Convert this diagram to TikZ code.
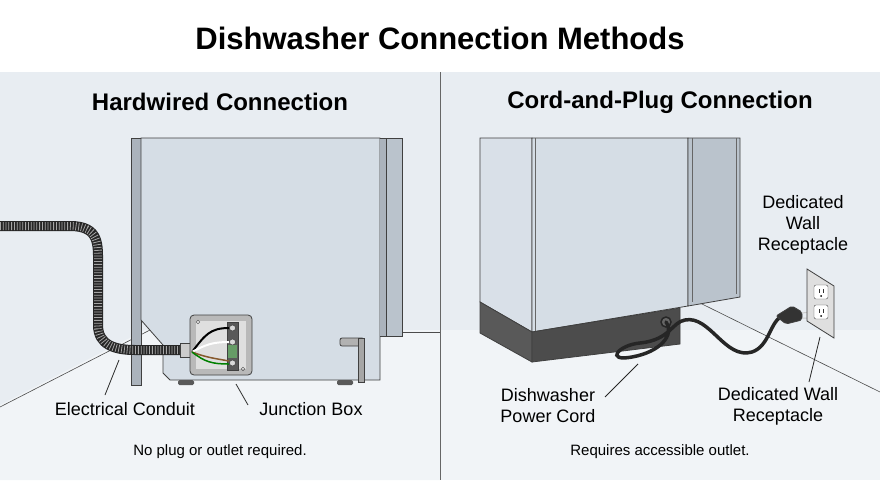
\documentclass[tikz,border=0pt]{standalone}
\usepackage{fontspec}
\setmainfont{Liberation Sans}
\definecolor{wall}{HTML}{E8EDF2}
\definecolor{floorc}{HTML}{F1F4F7}
\definecolor{body}{HTML}{D5DDE5}
\definecolor{strip}{HTML}{ABB3BC}
\definecolor{side}{HTML}{BAC3CC}
\begin{document}
\begin{tikzpicture}[x=1pt,y=-1pt,
  lbl/.style={font=\fontsize{18}{21}\selectfont,align=center,text=black},
  hdr/.style={font=\bfseries\fontsize{24}{27}\selectfont},
  foot/.style={font=\fontsize{15}{17}\selectfont},
  edge/.style={draw=black!75,line width=0.8pt},
  lead/.style={draw=black!85,line width=0.8pt}]
\useasboundingbox (0,0) rectangle (880,480);
\fill[white] (0,0) rectangle (880,72);
\fill[wall] (0,72) rectangle (880,480);
\fill[floorc] (0,405) -- (145,330) -- (440,330) -- (440,480) -- (0,480) -- cycle;
\fill[floorc] (440,330) -- (880,330) -- (880,480) -- (440,480) -- cycle;
\draw[black!60] (440,72) -- (440,480);
\node[font=\bfseries\fontsize{31}{34}\selectfont] (title) at (440,38) {Dishwasher Connection Methods};
\node[hdr] (h1) at (220,102) {Hardwired Connection};
\node[hdr] (h2) at (660,102) {Cord-and-Plug Connection};
% left floor lines
\draw[black!70,line width=0.6pt] (0,407) -- (150,330);
\draw[black!70,line width=0.6pt] (402,332) -- (440,332);
% left dishwasher
\draw[edge,fill=strip] (131,138) rectangle (141,385);
\draw[edge,fill=body] (141,138) -- (380,138) -- (380,380) -- (170,380) -- (163,373) -- (163,345) -- (141,320) -- cycle;
\draw[edge,fill=strip] (380,138) -- (386,138) -- (386,336) -- (380,336);
\draw[edge,fill=side] (386,138) rectangle (402,336);
\draw[edge,fill=gray!60,rounded corners=2pt] (340,338) rectangle (364,346);
\draw[edge,fill=gray!70] (358,338) rectangle (364,382);
\fill[black!65,rounded corners=1.5pt] (178,380) rectangle (194,385);
\fill[black!65,rounded corners=1.5pt] (337,380) rectangle (353,385);
% conduit
\draw[black!85,line width=10pt,line cap=round] (0,226) -- (70,226) .. controls (100,226) and (98,245) .. (98,265) -- (98,325) .. controls (98,345) and (115,350) .. (135,350) -- (182,350);
\draw[gray!70,line width=8pt,dash pattern=on 0.8pt off 2pt] (0,226) -- (70,226) .. controls (100,226) and (98,245) .. (98,265) -- (98,325) .. controls (98,345) and (115,350) .. (135,350) -- (182,350);
\draw[edge,fill=gray!40] (180,343) rectangle (191,357);
% junction box
\draw[edge,fill=gray!55,rounded corners=4pt] (190,315) rectangle (252,375);
\fill[gray!25] (196,321) rectangle (246,369);
\draw[edge,fill=black!65] (227,322) rectangle (238,370);
\fill[green!35!black!60] (228,345) rectangle (237,358);
\foreach \yy in {328,342,363} \draw[black!80,fill=gray!30] (232.5,\yy) circle (3);
\draw[black,line width=2pt] (192,352) .. controls (205,335) and (210,328) .. (229,328);
\draw[white,line width=2pt] (192,352) .. controls (205,345) and (212,342) .. (229,342);
\draw[brown!70!black,line width=1.5pt] (192,352) .. controls (205,357) and (212,358) .. (229,361);
\draw[green!50!black,line width=1.5pt] (192,352) .. controls (205,362) and (212,364) .. (229,364);
\draw[black!70] (198,322) circle (1.8) (243,369) circle (1.8);
% left labels
\node[lbl] (ec) at (125,409) {Electrical Conduit};
\node[lbl] (jb) at (311,409) {Junction Box};
\coordinate (c1) at (119,360);
\coordinate (c2) at (236,384);
\draw[lead] (105,395) -- (c1);
\draw[lead] (248,405) -- (c2);
\node[foot] (f1) at (220,452) {No plug or outlet required.};
% right floor line
\draw[black!70,line width=0.6pt] (700,303) -- (880,392);
% right dishwasher
\draw[edge,fill=body!90!white] (480,138) -- (532,138) -- (532,332) -- (480,302) -- cycle;
\draw[edge,fill=body] (532,138) -- (688,138) -- (688,306) -- (532,332) -- cycle;
\draw[black!60] (535,138) -- (535,331);
\draw[edge,fill=side] (688,138) -- (740,138) -- (740,297) -- (688,306) -- cycle;
\draw[black!60] (692,138) -- (692,302) (736,138) -- (736,294);
\draw[edge,fill=black!65] (480,302) -- (532,332) -- (532,362) -- (480,333) -- cycle;
\draw[edge,fill=black!70] (532,332) -- (680,308) -- (680,344) -- (532,362) -- cycle;
\draw[black!85,fill=black!60,line width=1.5pt] (666,322) circle (5);
% cord
\draw[black!85,line width=3.5pt,line cap=round] (666,322) .. controls (675,335) and (660,352) .. (632,357) .. controls (605,362) and (618,345) .. (640,343) .. controls (670,340) and (672,322) .. (685,320) .. controls (710,315) and (725,360) .. (752,352) .. controls (770,346) and (770,320) .. (783,316);
\draw[edge,fill=black!80,rounded corners=2pt] (776,316) -- (792,306) -- (802,312) -- (802,320) -- (786,324) -- cycle;
\draw[gray!40,line width=1pt] (802,313) -- (810,312) (802,318) -- (810,318);
% outlet
\draw[edge,fill=gray!25] (807,269) -- (834,286) -- (834,338) -- (807,321) -- cycle;
\foreach \yy in {291,311} {\draw[black!70,fill=white,rounded corners=2pt] (814,\yy-6) rectangle (828,\yy+8);
  \draw[black!80] (819,\yy-2) -- (819,\yy+2) (823,\yy-2) -- (823,\yy+2); \fill[black] (821,\yy+5) circle (1);}
% right labels
\node[lbl] (dwr1) at (803,225) {Dedicated\\Wall\\Receptacle};
\node[lbl] (pc) at (548,406) {Dishwasher\\Power Cord};
\node[lbl] (dwr2) at (778,406) {Dedicated Wall\\Receptacle};
\coordinate (c3) at (638,364);
\coordinate (c4) at (820,337);
\draw[lead] (605,397) -- (c3);
\draw[lead] (809,382) -- (c4);
\node[foot] (f2) at (660,452) {Requires accessible outlet.};
\end{tikzpicture}
\end{document}
